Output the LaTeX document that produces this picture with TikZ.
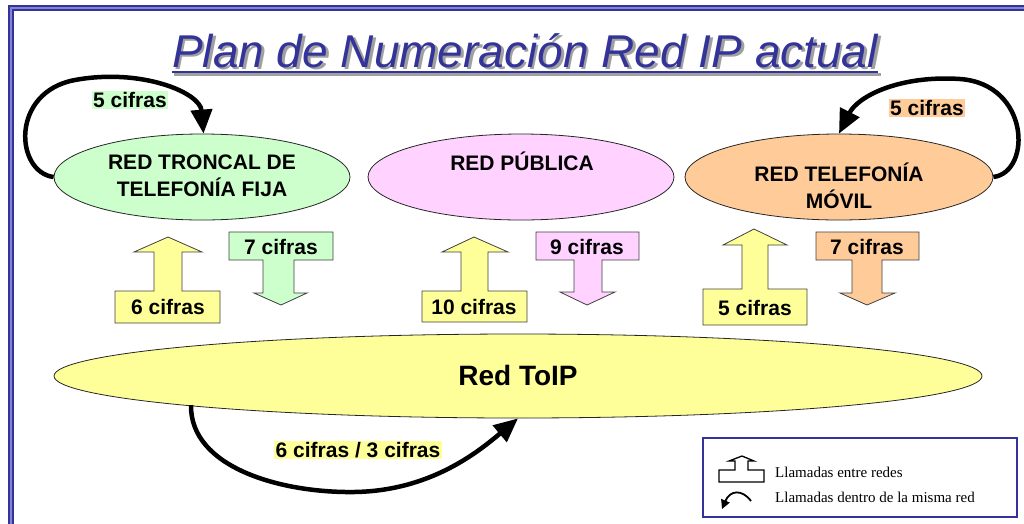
\documentclass[tikz,border=0pt]{standalone}
\usepackage{fontspec}
\setmainfont{Liberation Sans}
\newfontfamily\legendfont{Liberation Serif}
\usetikzlibrary{shapes.geometric,arrows.meta}
\definecolor{frameblue}{HTML}{333399}
\definecolor{framelight}{HTML}{8484D6}
\definecolor{netgreen}{HTML}{CCFFCC}
\definecolor{netpink}{HTML}{FFD2FF}
\definecolor{netorange}{HTML}{FFCC99}
\definecolor{netyellow}{HTML}{FFFF99}
\definecolor{shadowgray}{HTML}{A0A0A0}
\newcommand{\titletext}{Plan de Numeración Red IP actual}
\begin{document}
\begin{tikzpicture}[x=1pt,y=-1pt,
  net/.style={ellipse, draw=black!85, line width=0.8pt, inner sep=0pt},
  lbl/.style={font=\fontsize{21}{27}\selectfont\bfseries, align=center, inner sep=1.5pt},
  blk/.style={draw=black!75, line width=0.8pt, line join=miter},
  loopar/.style={line width=4.5pt, -{Triangle[length=24pt,width=21pt]}},
  legtxt/.style={font=\legendfont\fontsize{15}{18}\selectfont, anchor=base west, inner sep=0pt}]
\useasboundingbox (0,0) rectangle (1024,523);
% frame
\draw[frameblue, line width=6pt, line join=miter] (1030,8) -- (11,8) -- (11,530);
\draw[framelight, line width=2pt, line join=miter] (1030,8) -- (11,8) -- (11,530);
% title with shadow
\node[font=\fontsize{46}{50}\selectfont\itshape, anchor=base, inner sep=0pt] (title) at (525,67)
  {\makebox[0pt][l]{\hspace{2.5pt}\raisebox{-2.5pt}{\color{shadowgray}\titletext}}\color{frameblue}\titletext};
\draw[shadowgray, line width=2.5pt] ([xshift=2.5pt,yshift=-7.5pt]title.base west) -- ([xshift=2.5pt,yshift=-7.5pt]title.base east);
\draw[frameblue, line width=2.5pt] ([yshift=-5pt]title.base west) -- ([yshift=-5pt]title.base east);
% networks
\node[net, fill=netgreen, minimum width=296pt, minimum height=86pt] (green) at (202,177) {};
\node[lbl] (greentxt) at (202,176) {RED TRONCAL DE\\TELEFONÍA FIJA};
\node[net, fill=netpink, minimum width=306pt, minimum height=86pt] (pink) at (521,177) {};
\node[lbl] (pinktxt) at (522,161) {RED PÚBLICA};
\node[net, fill=netorange, minimum width=308pt, minimum height=86pt] (orange) at (839,177) {};
\node[lbl] (orangetxt) at (839,186) {RED TELEFONÍA\\MÓVIL};
\node[net, fill=netyellow, minimum width=928pt, minimum height=84pt] (toip) at (518,376) {};
\node[font=\fontsize{28}{32}\selectfont\bfseries, inner sep=0pt] (toiptxt) at (518,375) {Red ToIP};
\coordinate (toipout) at (191,405);
% block arrows left
\filldraw[blk, fill=netyellow] (115,323) -- (220,323) -- (220,291) -- (182,291) -- (182,252) -- (202,252) -- (168,237) -- (134,252) -- (154,252) -- (154,291) -- (115,291) -- cycle;
\node[lbl] (up1) at (168,307) {6 cifras};
\filldraw[blk, fill=netgreen] (229,232) -- (333,232) -- (333,260) -- (294,260) -- (294,293) -- (307,293) -- (281,305) -- (254,293) -- (263,293) -- (263,260) -- (229,260) -- cycle;
\node[lbl] (down1) at (281,247) {7 cifras};
% block arrows middle
\filldraw[blk, fill=netyellow] (422,322) -- (527,322) -- (527,291) -- (488,291) -- (488,252) -- (508,252) -- (474,237) -- (442,252) -- (461,252) -- (461,291) -- (422,291) -- cycle;
\node[lbl] (up2) at (474,307) {10 cifras};
\filldraw[blk, fill=netpink] (536,232) -- (639,232) -- (639,260) -- (602,260) -- (602,292) -- (615,292) -- (587,305) -- (560,292) -- (574,292) -- (574,260) -- (536,260) -- cycle;
\node[lbl] (down2) at (587,247) {9 cifras};
% block arrows right
\filldraw[blk, fill=netyellow] (703,325) -- (807,325) -- (807,289) -- (768,289) -- (768,245) -- (787,245) -- (754,229) -- (723,245) -- (742,245) -- (742,289) -- (703,289) -- cycle;
\node[lbl] (up3) at (755,308) {5 cifras};
\filldraw[blk, fill=netorange] (816,232) -- (919,232) -- (919,260) -- (882,260) -- (882,293) -- (895,293) -- (867,305) -- (840,293) -- (852,293) -- (852,260) -- (816,260) -- cycle;
\node[lbl] (down3) at (867,247) {7 cifras};
% loops
\draw[loopar] (green.west) .. controls (15,172) and (10,92) .. (75,80) .. controls (140,68) and (200,92) .. (green.88);
\node[lbl, fill=netgreen] (loop1) at (130,100) {5 cifras};
\draw[loopar] (orange.east) .. controls (1032,172) and (1030,84) .. (960,79) .. controls (900,75) and (858,96) .. (orange.north);
\node[lbl, fill=netorange] (loop2) at (927,108) {5 cifras};
\draw[loopar] (toipout) .. controls (190,468) and (282,493) .. (354,492) .. controls (430,491) and (478,452) .. (toip.south);
\node[lbl, fill=netyellow] (loop3) at (358,450) {6 cifras / 3 cifras};
% legend
\node[draw=frameblue, line width=1.2pt, minimum width=314pt, minimum height=79pt, inner sep=0pt] (legend) at (860,477.5) {};
\filldraw[draw=black, fill=white, line width=1.3pt, line join=miter] (719,482) -- (764,482) -- (764,470) -- (748,470) -- (748,461) -- (754,461) -- (742,456) -- (729,461) -- (735,461) -- (735,470) -- (719,470) -- cycle;
\coordinate (legc1) at (751,501);
\coordinate (legc2) at (722,509);
\draw[line width=1.8pt, -{Triangle[length=9pt,width=9pt]}] (legc1) .. controls (742,489) and (730,490) .. (legc2);
\node[legtxt] (leg1) at (775,477) {Llamadas entre redes};
\node[legtxt] (leg2) at (775,502) {Llamadas dentro de la misma red};
\end{tikzpicture}
\end{document}
